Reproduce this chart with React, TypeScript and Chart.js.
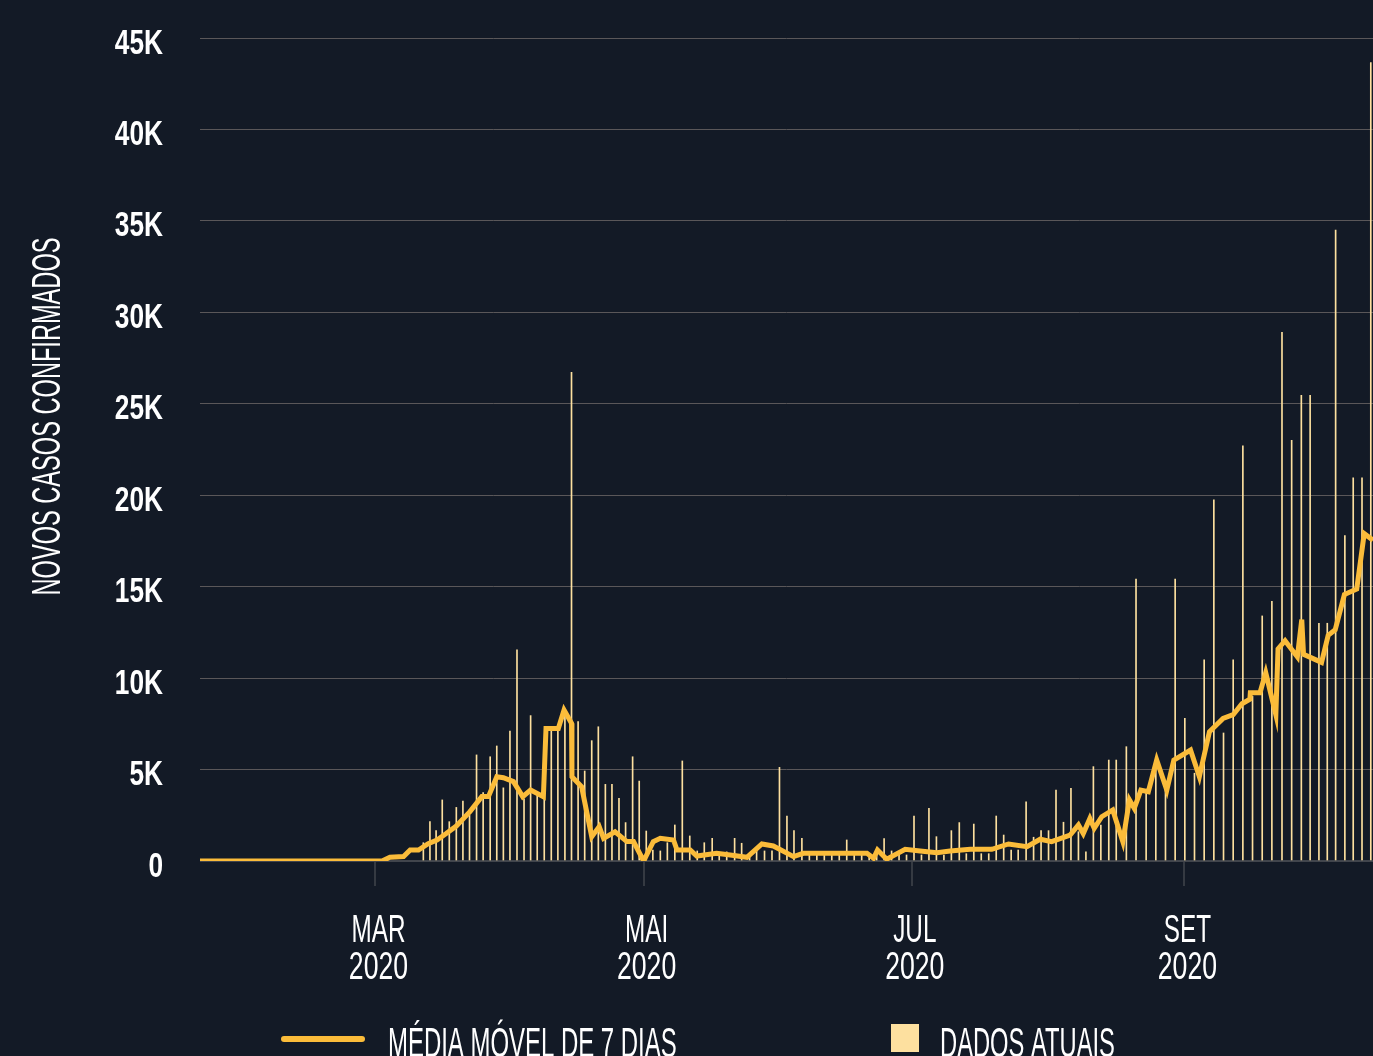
import React, { useEffect, useRef } from 'react';
import { Chart, registerables } from 'chart.js';

Chart.register(...registerables);

const BG = '#131a26';
const GOLD = '#fbbc3a';
const BAR = '#fde09f';

// x values are day offsets from 1 March 2020
const xMin = -39.9;
const xMax = 226.9;

const barDays = [10.9, 12.4, 13.8, 15.2, 16.8, 18.4, 19.9, 21.4, 23.0, 24.5, 26.1, 27.6, 29.1, 30.6, 32.2, 33.8, 35.3, 36.8, 38.4, 40.0, 41.5, 43.1, 44.6, 46.1, 47.6, 49.2, 50.7, 52.3, 53.8, 55.4, 56.9, 58.5, 60.0, 61.6, 63.1, 64.8, 66.4, 68.1, 69.8, 71.5, 73.2, 74.8, 76.6, 78.2, 79.9, 81.7, 83.3, 85.1, 86.7, 88.5, 90.2, 91.9, 93.6, 95.2, 97.0, 98.7, 100.4, 102.1, 103.8, 105.5, 107.2, 108.9, 110.6, 112.3, 114.0, 115.7, 117.4, 119.1, 120.8, 122.5, 124.2, 125.9, 127.6, 129.3, 131.0, 132.8, 134.4, 136.1, 137.8, 139.5, 141.2, 142.9, 144.6, 146.2, 148.0, 149.7, 151.4, 153.1, 154.8, 156.5, 158.2, 159.9, 161.6, 163.3, 165.0, 166.8, 168.5, 170.8, 173.0, 175.3, 177.5, 179.7, 181.9, 184.1, 186.3, 188.5, 190.7, 192.9, 195.1, 197.3, 199.5, 201.7, 203.9, 206.2, 208.4, 210.6, 212.6, 214.6, 216.5, 218.4, 220.5, 222.4, 224.4, 226.4];

const barValues = [1000, 2150, 1660, 3340, 2150, 2930, 3280, 2500, 5800, 3740, 5700, 6290, 4000, 7100, 11540, 3400, 7950, 3600, 4500, 7100, 7200, 8070, 26720, 7620, 4920, 6580, 7340, 4190, 4190, 3430, 2100, 5700, 4370, 1640, 600, 550, 1000, 1970, 5470, 1370, 550, 1000, 1240, 330, 500, 1240, 970, 240, 550, 550, 550, 5120, 2460, 1660, 1240, 330, 330, 330, 330, 330, 1150, 330, 330, 330, 330, 1220, 550, 330, 330, 2460, 330, 2880, 1330, 330, 1660, 2100, 400, 2020, 400, 400, 2460, 1420, 600, 600, 3230, 1300, 1660, 1660, 3880, 2120, 3970, 1600, 500, 5160, 1970, 5520, 5520, 6250, 15420, 3700, 5000, 3900, 15420, 7800, 4800, 11000, 19750, 7000, 11000, 22700, 9000, 13400, 14200, 28900, 23000, 25460, 25460, 13000, 13000, 34500, 17800, 20950, 20950, 43650];

const avgDays = [-39.9, 1.5, 3.3, 6.4, 7.9, 9.8, 12.0, 14.0, 16.1, 18.4, 21.5, 24.2, 25.7, 27.6, 29.1, 31.4, 33.5, 35.3, 38.2, 38.8, 41.6, 42.9, 44.6, 44.7, 46.9, 49.2, 50.9, 51.9, 54.5, 57.2, 58.7, 61.0, 63.2, 64.8, 67.8, 68.6, 71.6, 73.1, 77.6, 80.7, 84.5, 87.9, 90.5, 95.1, 97.3, 111.8, 113.3, 114.2, 116.3, 120.5, 123.9, 127.7, 130.7, 135.3, 140.2, 144.0, 148.2, 151.2, 153.8, 158.0, 159.9, 161.0, 162.5, 163.5, 165.2, 167.7, 170.0, 171.5, 172.6, 174.1, 175.8, 177.7, 180.0, 181.6, 185.4, 187.4, 189.7, 192.8, 195.1, 197.1, 198.9, 199.0, 201.2, 202.5, 204.8, 205.3, 206.9, 209.7, 210.7, 211.1, 215.2, 216.7, 218.3, 220.4, 223.2, 224.9, 226.9];

const avgValues = [0, 0, 200, 240, 600, 600, 950, 1150, 1500, 1910, 2700, 3520, 3520, 4610, 4550, 4340, 3520, 3880, 3520, 7250, 7250, 8260, 7530, 4610, 4060, 1330, 1880, 1240, 1600, 1060, 1060, 0, 1060, 1240, 1150, 600, 600, 270, 420, 330, 200, 930, 820, 240, 420, 420, 150, 600, 100, 640, 550, 450, 550, 640, 640, 930, 780, 1190, 1060, 1420, 1970, 1500, 2330, 1790, 2420, 2790, 1060, 3340, 2880, 3880, 3790, 5520, 3880, 5520, 6070, 4610, 7070, 7800, 8000, 8600, 8850, 9200, 9200, 10300, 8000, 11600, 12050, 11160, 13200, 11300, 10860, 12340, 12640, 14570, 14870, 17900, 17540];

const tickDays = [0, 61, 122, 184];
const tickMonths = ['MAR', 'MAI', 'JUL', 'SET'];
const tickYear = '2020';
const yMax = 45000;
const yStep = 5000;
const yTitle = 'NOVOS CASOS CONFIRMADOS';
const legendLineLabel = 'MÉDIA MÓVEL DE 7 DIAS';
const legendBarLabel = 'DADOS ATUAIS';

const FONT = '"Liberation Sans", Arial, sans-serif';

function yLabel(v: number) {
  return v === 0 ? '0' : `${v / 1000}K`;
}

function drawCondensed(
  ctx: CanvasRenderingContext2D,
  text: string,
  x: number,
  y: number,
  size: number,
  scaleX: number,
  align: 'left' | 'center' | 'right',
  color = '#ffffff',
  weight = 'normal'
) {
  ctx.save();
  ctx.font = `${weight} ${size}px ${FONT}`;
  ctx.textBaseline = 'alphabetic';
  ctx.textAlign = 'left';
  ctx.fillStyle = color;
  const w = ctx.measureText(text).width * scaleX;
  const left = align === 'center' ? x - w / 2 : align === 'right' ? x - w : x;
  ctx.translate(left, y);
  ctx.scale(scaleX, 1);
  ctx.fillText(text, 0, 0);
  ctx.restore();
}

const bgPlugin = {
  id: 'bgPlugin',
  beforeDraw(chart: any) {
    const ctx = chart.ctx as CanvasRenderingContext2D;
    ctx.save();
    ctx.fillStyle = BG;
    ctx.fillRect(0, 0, chart.width, chart.height);
    ctx.restore();
  },
};

const textPlugin = {
  id: 'textPlugin',
  afterDraw(chart: any) {
    const ctx = chart.ctx as CanvasRenderingContext2D;
    const xs = chart.scales.x;
    const ys = chart.scales.y;
    const area = chart.chartArea;
    // y tick labels
    ys.ticks.forEach((t: any) => {
      const py = ys.getPixelForValue(t.value);
      drawCondensed(ctx, yLabel(t.value), area.left - 37, py + 15.5, 35, 0.75, 'right', '#ffffff', 'bold');
    });
    // x labels
    tickDays.forEach((d, i) => {
      const px = xs.getPixelForValue(d) + 3;
      drawCondensed(ctx, tickMonths[i], px, area.bottom + 81, 38, 0.64, 'center');
      drawCondensed(ctx, tickYear, px, area.bottom + 118, 38, 0.7, 'center');
    });
    // y title
    ctx.save();
    ctx.translate(60, (area.top + area.bottom) / 2 - 33);
    ctx.rotate(-Math.PI / 2);
    drawCondensed(ctx, yTitle, 0, 0, 40, 0.59, 'center');
    ctx.restore();
    // legend
    ctx.save();
    ctx.strokeStyle = GOLD;
    ctx.lineWidth = 6;
    ctx.lineCap = 'round';
    ctx.beginPath();
    ctx.moveTo(284, 1039);
    ctx.lineTo(362, 1039);
    ctx.stroke();
    ctx.fillStyle = BAR;
    ctx.fillRect(891, 1024, 28, 28);
    ctx.restore();
    drawCondensed(ctx, legendLineLabel, 388, 1057, 42, 0.57, 'left');
    drawCondensed(ctx, legendBarLabel, 940, 1057, 42, 0.565, 'left');
  },
};

export default function App() {
  const ref = useRef<HTMLCanvasElement | null>(null);

  useEffect(() => {
    document.body.style.margin = '0';
    document.body.style.background = BG;
    const canvas = ref.current;
    if (!canvas) return;
    const chart = new Chart(canvas, {
      type: 'bar',
      data: {
        datasets: [
          {
            type: 'line',
            label: legendLineLabel,
            data: avgDays.map((d, i) => ({ x: d, y: avgValues[i] })),
            borderColor: GOLD,
            borderWidth: 5,
            pointRadius: 0,
            tension: 0,
            fill: false,
            order: 1,
          } as any,
          {
            type: 'bar',
            label: legendBarLabel,
            data: barDays.map((d, i) => ({ x: d, y: barValues[i] })),
            backgroundColor: BAR,
            barThickness: 1,
            borderWidth: 0,
            order: 2,
          } as any,
        ],
      },
      options: {
        responsive: false,
        animation: false,
        devicePixelRatio: 1,
        layout: { padding: { top: 38, right: 0, bottom: 0, left: 0 } },
        plugins: {
          legend: { display: false },
          tooltip: { enabled: false },
          title: { display: false },
        },
        scales: {
          x: {
            type: 'linear',
            min: xMin,
            max: xMax,
            offset: false,
            afterBuildTicks: (scale: any) => {
              scale.ticks = tickDays.map((v) => ({ value: v }));
            },
            afterFit: (scale: any) => {
              scale.height = 195;
            },
            ticks: { display: false },
            grid: {
              offset: false,
              drawOnChartArea: false,
              drawTicks: true,
              tickLength: 25,
              color: '#353a42',
              lineWidth: 2,
            },
            border: { display: false },
          },
          y: {
            type: 'linear',
            min: 0,
            max: yMax,
            afterFit: (scale: any) => {
              scale.width = 200;
            },
            ticks: {
              stepSize: yStep,
              display: false,
            },
            grid: {
              drawTicks: false,
              color: (c: any) => (c.tick && c.tick.value === 0 ? '#41454c' : '#5a5759'),
              lineWidth: (c: any) => (c.tick && c.tick.value === 0 ? 2 : 1),
            },
            border: { display: false },
          },
        },
      },
      plugins: [bgPlugin, textPlugin],
    });
    return () => chart.destroy();
  }, []);

  return (
    <div style={{ width: 1373, height: 1056, background: BG, overflow: 'hidden' }}>
      <canvas ref={ref} width={1373} height={1056} style={{ display: 'block' }} />
    </div>
  );
}
